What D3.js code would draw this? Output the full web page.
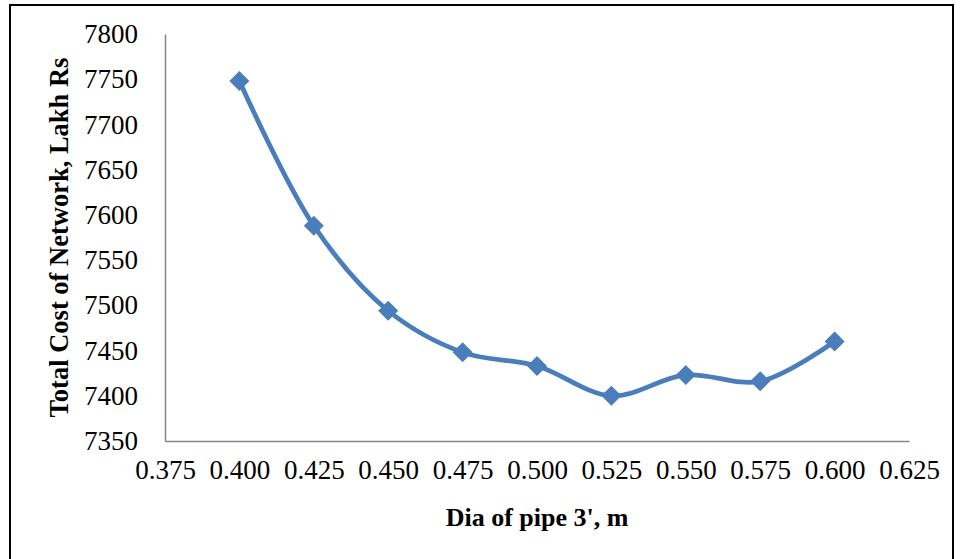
<!DOCTYPE html>
<html>
<head>
<meta charset="utf-8">
<script src="https://cdn.jsdelivr.net/npm/d3@7"></script>
<style>
  html, body { margin: 0; padding: 0; background: #fff; }
  svg { display: block; }
</style>
</head>
<body>
<svg id="chart" width="962" height="559"></svg>
<script>
// ---- data ----
const diameters = [0.400, 0.425, 0.450, 0.475, 0.500, 0.525, 0.550, 0.575, 0.600];
const totalCost = [7748, 7588, 7494, 7448, 7433, 7400, 7423, 7416, 7460];
const xTicks = [0.375, 0.400, 0.425, 0.450, 0.475, 0.500, 0.525, 0.550, 0.575, 0.600, 0.625];
const yTicks = [7350, 7400, 7450, 7500, 7550, 7600, 7650, 7700, 7750, 7800];
const xTitle = "Dia of pipe 3', m";
const yTitle = "Total Cost of Network, Lakh Rs";

const svg = d3.select("#chart");

// outer frame
svg.append("rect")
  .attr("x", 10).attr("y", 5)
  .attr("width", 943).attr("height", 560)
  .attr("fill", "none").attr("stroke", "#000").attr("stroke-width", 2);

const plot = { left: 165, right: 909, top: 34, bottom: 441 };

const x = d3.scaleLinear().domain([0.375, 0.625]).range([plot.left, plot.right]);
const y = d3.scaleLinear().domain([7350, 7800]).range([plot.bottom, plot.top]);

const tickFont = "'Liberation Serif', 'Times New Roman', serif";

// y axis
const yAxis = svg.append("g")
  .attr("transform", `translate(${plot.left},0)`)
  .call(d3.axisLeft(y).tickValues(yTicks).tickFormat(d3.format("d")).tickSize(0).tickPadding(27));
yAxis.select(".domain").attr("stroke", "#868686").attr("stroke-width", 1.5);
yAxis.selectAll("text")
  .attr("font-family", tickFont).attr("font-size", 27).attr("fill", "#000");

// x axis
const xAxis = svg.append("g")
  .attr("transform", `translate(0,${plot.bottom})`)
  .call(d3.axisBottom(x).tickValues(xTicks).tickFormat(d3.format(".3f")).tickSize(0).tickPadding(19));
xAxis.select(".domain").attr("stroke", "#868686").attr("stroke-width", 1.5);
xAxis.selectAll("text")
  .attr("font-family", tickFont).attr("font-size", 27).attr("fill", "#000");

// series
const pts = diameters.map((d, i) => [d, totalCost[i]]);
const line = d3.line()
  .x(d => x(d[0])).y(d => y(d[1]))
  .curve(d3.curveCatmullRom.alpha(0.5));

svg.append("path")
  .datum(pts)
  .attr("d", line)
  .attr("fill", "none")
  .attr("stroke", "#4A7EBB")
  .attr("stroke-width", 4.75)
  .attr("stroke-linejoin", "round");

const sym = d3.symbol().type(d3.symbolSquare).size(200);
svg.append("g").selectAll("path")
  .data(pts)
  .join("path")
  .attr("d", sym)
  .attr("transform", d => `translate(${x(d[0])},${y(d[1])}) rotate(45)`)
  .attr("fill", "#4A7EBB");

// titles
svg.append("text")
  .attr("x", (plot.left + plot.right) / 2)
  .attr("y", 526)
  .attr("text-anchor", "middle")
  .attr("font-family", "'Liberation Serif', 'Times New Roman', serif")
  .attr("font-weight", "bold")
  .attr("font-size", 26)
  .text(xTitle);

svg.append("text")
  .attr("transform", `translate(68,${(57 + 418) / 2}) rotate(-90)`)
  .attr("text-anchor", "middle")
  .attr("font-family", "'Liberation Serif', 'Times New Roman', serif")
  .attr("font-weight", "bold")
  .attr("font-size", 26.5)
  .text(yTitle);
</script>
</body>
</html>
